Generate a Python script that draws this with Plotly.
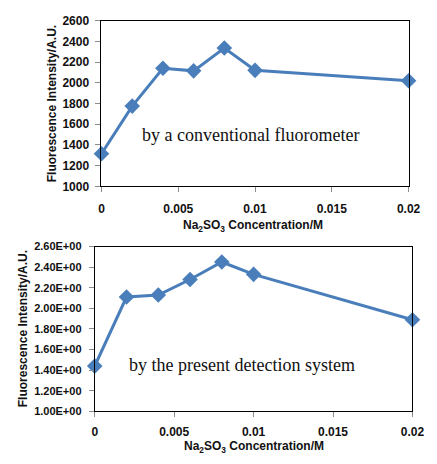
import plotly.graph_objects as go

conc = [0, 0.002, 0.004, 0.006, 0.008, 0.01, 0.02]
top_vals = [1315, 1775, 2140, 2115, 2335, 2120, 2020]
bot_vals = [1.44, 2.11, 2.13, 2.28, 2.45, 2.33, 1.89]

x_ticks = [0, 0.005, 0.01, 0.015, 0.02]
x_ticktext = ["0", "0.005", "0.01", "0.015", "0.02"]
top_yticks = [1000, 1200, 1400, 1600, 1800, 2000, 2200, 2400, 2600]
top_yticktext = ["1000", "1200", "1400", "1600", "1800", "2000", "2200", "2400", "2600"]
bot_yticks = [1.0, 1.2, 1.4, 1.6, 1.8, 2.0, 2.2, 2.4, 2.6]
bot_yticktext = ["1.00E+00", "1.20E+00", "1.40E+00", "1.60E+00", "1.80E+00",
                 "2.00E+00", "2.20E+00", "2.40E+00", "2.60E+00"]

W, H = 437, 464
COLOR = "#4a7ebb"
FAM = "Liberation Sans, Arial, sans-serif"

def b(lst): return ["<b>%s</b>" % t for t in lst]

fig = go.Figure()
for vals, xa, ya in [(top_vals, "x", "y"), (bot_vals, "x2", "y2")]:
    fig.add_trace(go.Scatter(x=conc, y=vals, mode="lines+markers",
                             line=dict(color=COLOR, width=3),
                             marker=dict(symbol="diamond", size=12, color=COLOR),
                             cliponaxis=False, xaxis=xa, yaxis=ya, showlegend=False))

def px(v): return v / W
def py(v): return 1 - v / H

def axis_common(size, standoff):
    return dict(showline=True, linecolor="black", linewidth=1, mirror=True,
                showgrid=False, zeroline=False, ticks="outside", ticklen=5,
                tickcolor="#8c8c8c", ticklabelstandoff=standoff,
                tickfont=dict(family=FAM, size=size, color="#111111"))

fig.update_layout(
    width=W, height=H, margin=dict(l=0, r=0, t=0, b=0),
    paper_bgcolor="white", plot_bgcolor="white",
    xaxis=dict(axis_common(12, 6), domain=[px(102), px(420)], range=[0, 0.02],
               tickvals=x_ticks, ticktext=b(x_ticktext), anchor="y"),
    yaxis=dict(axis_common(12, 4), domain=[py(185), py(14)], range=[1000, 2600],
               tickvals=top_yticks, ticktext=b(top_yticktext), anchor="x"),
    xaxis2=dict(axis_common(12, 4), domain=[px(95), px(424)], range=[0, 0.02],
                tickvals=x_ticks, ticktext=b(x_ticktext), anchor="y2"),
    yaxis2=dict(axis_common(11, 5), domain=[py(417), py(247)], range=[1.0, 2.6],
                tickvals=bot_yticks, ticktext=b(bot_yticktext), anchor="x2"),
)

bold = dict(family=FAM, size=12, color="#111111")
serif = dict(family="Liberation Serif, Times New Roman, serif", size=18, color="#111111")
ann = [
    dict(text="<b>Na<sub>2</sub>SO<sub>3</sub> Concentration/M</b>", x=px(259), y=py(236),
         yanchor="bottom", font=bold),
    dict(text="<b>Fluorescence Intensity/A.U.</b>", x=px(51), y=py(100), font=bold, textangle=-90),
    dict(text="<b>Na<sub>2</sub>SO<sub>3</sub> Concentration/M</b>", x=px(260), y=0,
         yanchor="bottom", font=bold),
    dict(text="<b>Fluorescence Intensity/A.U.</b>", x=px(21), y=py(332), font=bold, textangle=-90),
    dict(text="by a conventional fluorometer", x=px(256), y=py(132), font=serif),
    dict(text="by the present detection system", x=px(247), y=py(369), font=serif),
]
for a in ann:
    a.setdefault("yanchor", "middle")
    fig.add_annotation(xref="paper", yref="paper", showarrow=False,
                       xanchor="center", **a)

fig.write_html("out.html")
